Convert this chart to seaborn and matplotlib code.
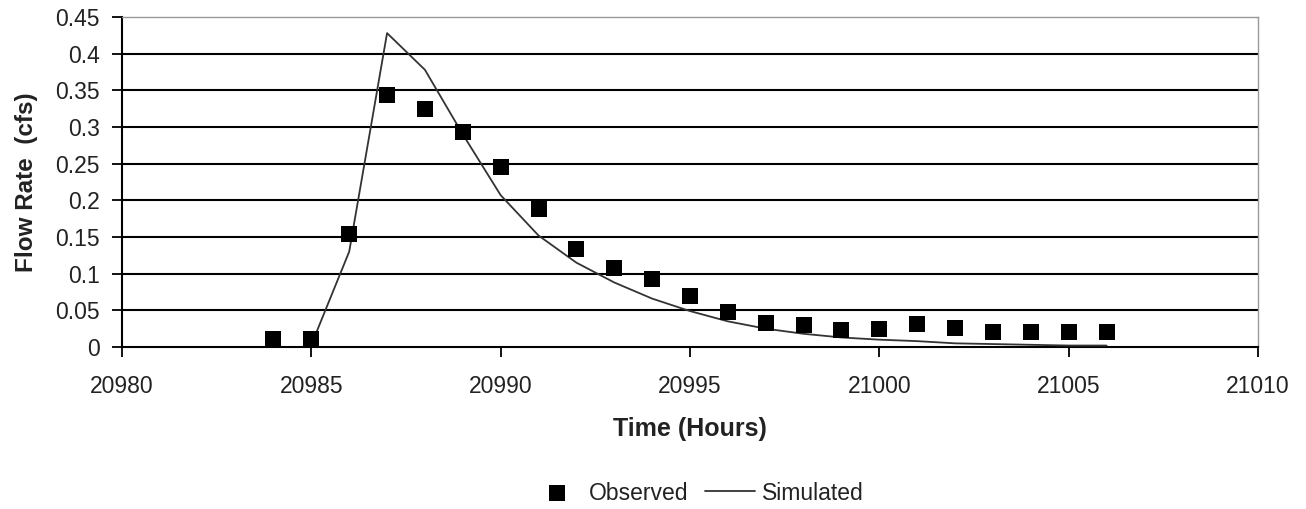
import matplotlib
matplotlib.use("Agg")
import matplotlib.pyplot as plt
import seaborn as sns
import pandas as pd

obs_hours = [20984, 20985, 20986, 20987, 20988, 20989, 20990, 20991, 20992, 20993, 20994,
             20995, 20996, 20997, 20998, 20999, 21000, 21001, 21002, 21003, 21004, 21005, 21006]
obs_flow = [0.011, 0.011, 0.154, 0.343, 0.324, 0.293, 0.245, 0.188, 0.133, 0.108, 0.093,
            0.070, 0.048, 0.033, 0.030, 0.023, 0.024, 0.031, 0.026, 0.021, 0.021, 0.021, 0.021]

sim_hours = [20985, 20986, 20987, 20988, 20989, 20990, 20991, 20992, 20993, 20994, 20995,
             20996, 20997, 20998, 20999, 21000, 21001, 21002, 21003, 21004, 21005, 21006]
sim_flow = [0.003, 0.130, 0.428, 0.378, 0.290, 0.207, 0.152, 0.115, 0.088, 0.066, 0.049,
            0.035, 0.025, 0.018, 0.013, 0.010, 0.008, 0.005, 0.004, 0.003, 0.002, 0.002]

x_ticks = [20980, 20985, 20990, 20995, 21000, 21005, 21010]
y_ticks = [0, 0.05, 0.1, 0.15, 0.2, 0.25, 0.3, 0.35, 0.4, 0.45]
y_tick_labels = ["0", "0.05", "0.1", "0.15", "0.2", "0.25", "0.3", "0.35", "0.4", "0.45"]

sns.set_theme(style="white")
plt.rcParams['font.family'] = ['Liberation Sans', 'DejaVu Sans']

obs_df = pd.DataFrame({"hours": obs_hours, "flow": obs_flow})
sim_df = pd.DataFrame({"hours": sim_hours, "flow": sim_flow})

fig = plt.figure(figsize=(13.06, 5.09), dpi=100)
ax = fig.add_axes([122/1306, 1 - 347/509, (1258-122)/1306, (347-17)/509])

for y in y_ticks[1:-1]:
    ax.axhline(y, color="black", lw=1.5, zorder=1)

sns.lineplot(data=sim_df, x="hours", y="flow", ax=ax, color="#333333", lw=1.3,
             label="Simulated", zorder=3)
sns.scatterplot(data=obs_df, x="hours", y="flow", ax=ax, marker="s", s=145,
                color="black", edgecolor="black", linewidth=0, label="Observed", zorder=4)

ax.set_xlim(20980, 21010)
ax.set_ylim(0, 0.45)
ax.set_xticks(x_ticks)
ax.set_xticklabels([str(t) for t in x_ticks])
ax.set_yticks(y_ticks)
ax.set_yticklabels(y_tick_labels)
ax.tick_params(axis="both", which="major", direction="out", length=7, width=1.3,
               color="black", labelsize=16.5, labelcolor="#222222", bottom=True, left=True)
ax.tick_params(axis="x", pad=13)
ax.tick_params(axis="y", pad=9)

for side in ["left", "bottom"]:
    ax.spines[side].set_color("black")
    ax.spines[side].set_linewidth(1.5)
for side in ["top", "right"]:
    ax.spines[side].set_color("#999999")
    ax.spines[side].set_linewidth(1.0)

ax.set_xlabel("Time (Hours)", fontsize=18, fontweight="bold", color="#222222", labelpad=14)
ax.set_ylabel("Flow Rate  (cfs)", fontsize=17.5, fontweight="bold", color="#222222", labelpad=12)

handles, labels = ax.get_legend_handles_labels()
order = [labels.index("Observed"), labels.index("Simulated")]
ax.legend([handles[i] for i in order], [labels[i] for i in order],
          loc="center", bbox_to_anchor=(698/1306, 1 - 493/509), bbox_transform=fig.transFigure,
          ncol=2, frameon=False, fontsize=16.5, handlelength=2.2, columnspacing=0.7,
          handletextpad=0.3, labelcolor="#222222")

fig.savefig("out.png", dpi=100)
